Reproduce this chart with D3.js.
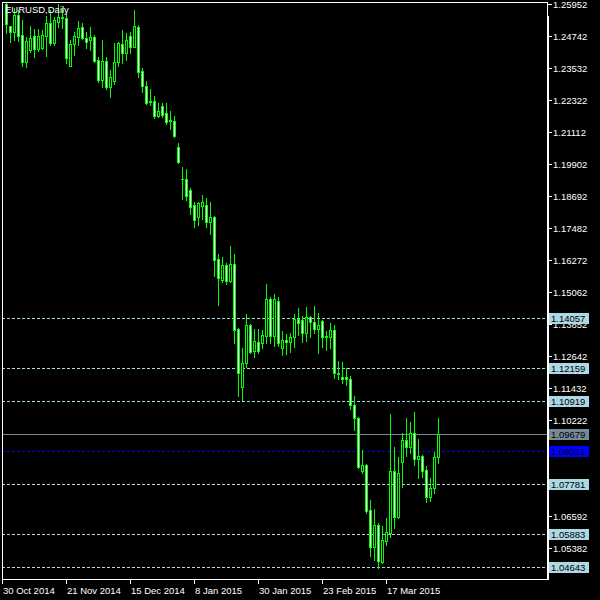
<!DOCTYPE html>
<html><head><meta charset="utf-8">
<script src="https://cdn.jsdelivr.net/npm/d3@7/dist/d3.min.js"></script>
<style>html,body{margin:0;padding:0;background:#000;}svg{display:block;}</style>
</head><body>
<svg id="c" width="600" height="600"></svg>
<script>
// ---- data (bars 31 Oct 2014 .. 2 Apr 2015, index 1..109; index 0 = 30 Oct 2014) ----
const barIndex = d3.range(1, 110);
const open = [1.2594,1.2510,1.2487,1.2552,1.2476,1.2374,1.2419,1.2472,1.2423,1.2427,
1.2472,1.2521,1.2446,1.2525,1.2544,1.2540,1.2359,1.2442,1.2469,1.2506,
1.2465,1.2457,1.2469,1.2382,1.2306,1.2378,1.2279,1.2302,1.2374,1.2442,
1.2408,1.2472,1.2431,1.2506,1.2340,1.2283,1.2227,1.2227,1.2170,1.2208,
1.2181,1.2155,1.2151,1.2053,1.1932,1.1932,1.1890,1.1833,1.1788,1.1830,
1.1833,1.1769,1.1788,1.1629,1.1550,1.1606,1.1546,1.1610,1.1364,1.1145,
1.1236,1.1380,1.1281,1.1315,1.1311,1.1338,1.1478,1.1338,1.1470,1.1293,
1.1323,1.1315,1.1334,1.1402,1.1398,1.1349,1.1410,1.1391,1.1364,1.1395,
1.1338,1.1334,1.1361,1.1198,1.1183,1.1183,1.1175,1.1077,1.1028,1.0827,
1.0850,1.0680,1.0540,1.0623,1.0483,1.0563,1.0593,1.0827,1.0653,1.0861,
1.0945,1.0918,1.0971,1.0873,1.0884,1.0831,1.0729,1.0763,1.0880];
const high = [1.2598,1.2512,1.2578,1.2571,1.2533,1.2469,1.2510,1.2499,1.2499,1.2495,
1.2548,1.2571,1.2544,1.2595,1.2578,1.2559,1.2457,1.2487,1.2529,1.2521,
1.2487,1.2506,1.2476,1.2393,1.2457,1.2393,1.2344,1.2446,1.2450,1.2495,
1.2484,1.2487,1.2571,1.2514,1.2351,1.2302,1.2272,1.2245,1.2219,1.2219,
1.2219,1.2189,1.2170,1.2068,1.1977,1.1969,1.1898,1.1845,1.1845,1.1871,
1.1860,1.1845,1.1792,1.1648,1.1637,1.1614,1.1678,1.1648,1.1368,1.1293,
1.1421,1.1383,1.1364,1.1364,1.1361,1.1535,1.1485,1.1497,1.1485,1.1357,
1.1345,1.1349,1.1421,1.1444,1.1414,1.1448,1.1414,1.1451,1.1425,1.1398,
1.1357,1.1387,1.1380,1.1243,1.1240,1.1217,1.1187,1.1111,1.1032,1.0907,
1.0854,1.0718,1.0684,1.0631,1.0619,1.0650,1.1043,1.0918,1.0880,1.0971,
1.1028,1.1013,1.1051,1.0948,1.0888,1.0846,1.0801,1.0899,1.1028];
const low = [1.2484,1.2450,1.2457,1.2453,1.2359,1.2355,1.2412,1.2393,1.2416,1.2423,
1.2397,1.2438,1.2438,1.2506,1.2503,1.2370,1.2358,1.2400,1.2438,1.2461,
1.2427,1.2419,1.2374,1.2298,1.2279,1.2272,1.2242,1.2291,1.2359,1.2370,
1.2382,1.2408,1.2431,1.2317,1.2261,1.2215,1.2211,1.2162,1.2166,1.2166,
1.2140,1.2121,1.2090,1.1992,1.1856,1.1852,1.1799,1.1750,1.1758,1.1780,
1.1750,1.1724,1.1565,1.1455,1.1542,1.1535,1.1542,1.1311,1.1111,1.1096,
1.1221,1.1274,1.1259,1.1274,1.1293,1.1311,1.1311,1.1300,1.1300,1.1266,
1.1270,1.1277,1.1296,1.1342,1.1315,1.1319,1.1334,1.1349,1.1274,1.1296,
1.1285,1.1293,1.1179,1.1175,1.1160,1.1153,1.1062,1.0982,1.0839,1.0820,
1.0669,1.0506,1.0491,1.0461,1.0480,1.0548,1.0578,1.0612,1.0650,1.0767,
1.0884,1.0896,1.0850,1.0801,1.0805,1.0710,1.0714,1.0744,1.0858];
const close = [1.2518,1.2487,1.2552,1.2472,1.2374,1.2453,1.2465,1.2423,1.2472,1.2476,
1.2521,1.2446,1.2533,1.2544,1.2540,1.2389,1.2442,1.2472,1.2503,1.2465,
1.2450,1.2469,1.2378,1.2306,1.2378,1.2279,1.2317,1.2374,1.2446,1.2408,
1.2457,1.2431,1.2510,1.2336,1.2283,1.2219,1.2223,1.2170,1.2189,1.2174,
1.2147,1.2151,1.2094,1.1996,1.1932,1.1867,1.1826,1.1777,1.1841,1.1845,
1.1769,1.1788,1.1625,1.1557,1.1606,1.1546,1.1610,1.1361,1.1198,1.1236,
1.1380,1.1277,1.1319,1.1281,1.1342,1.1478,1.1338,1.1478,1.1311,1.1323,
1.1315,1.1334,1.1402,1.1387,1.1349,1.1410,1.1391,1.1364,1.1380,1.1334,
1.1334,1.1361,1.1198,1.1194,1.1175,1.1175,1.1077,1.1028,1.0843,1.0850,
1.0676,1.0540,1.0623,1.0487,1.0567,1.0597,1.0827,1.0653,1.0820,1.0945,
1.0918,1.0971,1.0873,1.0884,1.0827,1.0729,1.0763,1.0880,1.0968];

const dateTickIndex = [0,16,32,48,64,80,96];
const dateTickLabels = ["30 Oct 2014","21 Nov 2014","15 Dec 2014","8 Jan 2015","30 Jan 2015","23 Feb 2015","17 Mar 2015"];
const priceTickLabels = ["1.25952","1.24742","1.23532","1.22322","1.21112","1.19902","1.18692","1.17482","1.16272","1.15062","1.13852","1.12642","1.11432","1.10222","1.09012","1.07802","1.06592","1.05382"];
const levelLines = [1.14057,1.12159,1.10919,1.07781,1.05883,1.04643];
const askPrice = 1.09679;
const bidPrice = 1.09021;
const priceMin = 1.04191, priceMax = 1.26009;
const title = "EURUSD,Daily";

// ---- drawing ----
const svg = d3.select("#c").attr("shape-rendering","crispEdges");
const L = 2, R = 547, T = 2, B = 579;
const x = d3.scaleLinear().domain([0, 109]).range([2, 438]);
const y = d3.scaleLinear().domain([priceMin, priceMax]).range([B, T]);
const FONT = "'Liberation Sans', Arial, sans-serif";
const LIME = "#00ff00";

svg.append("rect").attr("width",600).attr("height",600).attr("fill","#000");

// level lines
const lines = svg.append("g");
levelLines.forEach(v=>{
  const yy = Math.round(y(v)) + 0.5;
  lines.append("line").attr("x1",L).attr("x2",R).attr("y1",yy).attr("y2",yy)
    .attr("stroke","#add8e6").attr("stroke-dasharray","3,2");
});
{
  const yy = Math.round(y(askPrice)) + 0.5;
  lines.append("line").attr("x1",L).attr("x2",R).attr("y1",yy).attr("y2",yy).attr("stroke","#778899");
  const yb = Math.round(y(bidPrice)) + 0.5;
  lines.append("line").attr("x1",L).attr("x2",R).attr("y1",yb).attr("y2",yb)
    .attr("stroke","#0000ff").attr("stroke-dasharray","3,2");
}

// candles
const cg = svg.append("g");
barIndex.forEach((idx, k)=>{
  const cx = Math.round(x(idx));
  const o = open[k], c = close[k], h = high[k], l = low[k];
  const yh = Math.round(y(h)), yl = Math.round(y(l));
  cg.append("rect").attr("x",cx).attr("y",yh).attr("width",1).attr("height",yl-yh+1).attr("fill",LIME);
  const yTop = Math.round(y(Math.max(o,c))), yBot = Math.round(y(Math.min(o,c)));
  cg.append("rect").attr("x",cx-1).attr("y",yTop).attr("width",3).attr("height",yBot-yTop+1).attr("fill",LIME);
  if (yBot - yTop >= 2) {
    cg.append("rect").attr("x",cx).attr("y",yTop+1).attr("width",1).attr("height",yBot-yTop-1)
      .attr("fill", c < o ? "#ffffff" : "#000000");
  }
});

// frame
svg.append("rect").attr("x",L+0.5).attr("y",T+0.5).attr("width",R-L).attr("height",B-T)
  .attr("fill","none").attr("stroke","#fff");
svg.append("line").attr("x1",R+1.5).attr("x2",R+1.5).attr("y1",T+14).attr("y2",B+1).attr("stroke","#fff");

// title
svg.append("text").attr("x",5).attr("y",13).attr("fill","#fff").attr("font-family",FONT)
  .attr("font-size","9.5px").text(title);

// price axis (labels fully hidden under a price box are not drawn, as in the original)
const boxValues = levelLines.concat([askPrice, bidPrice]);
const ax = svg.append("g");
priceTickLabels.forEach(t=>{
  const yy = Math.round(y(+t));
  ax.append("line").attr("x1",R).attr("x2",R+5).attr("y1",yy+0.5).attr("y2",yy+0.5).attr("stroke","#fff");
  const covered = boxValues.some(v => Math.abs(Math.round(y(v)) - yy) < 4);
  if (!covered) {
    ax.append("text").attr("x",R+6).attr("y",yy+3.5).attr("fill","#fff").attr("font-family",FONT)
      .attr("font-size","9.5px").text(t);
  }
});

// price boxes
function box(v, bg, fg){
  const yy = Math.round(y(v));
  ax.append("rect").attr("x",549).attr("y",yy-5).attr("width",40).attr("height",11).attr("fill",bg);
  ax.append("text").attr("x",551).attr("y",yy+3.5).attr("fill",fg).attr("font-family",FONT)
    .attr("font-size","9.5px").text(v.toFixed(5));
}
levelLines.forEach(v=>box(v,"#add8e6","#000"));
box(askPrice,"#778899","#000");
box(bidPrice,"#0000ff","#000");

// date axis
dateTickIndex.forEach((idx,k)=>{
  const xx = Math.round(x(idx));
  ax.append("line").attr("x1",xx+0.5).attr("x2",xx+0.5).attr("y1",B).attr("y2",B+5).attr("stroke","#fff");
  ax.append("text").attr("x",xx+1).attr("y",594).attr("fill","#fff").attr("font-family",FONT)
    .attr("font-size","9.5px").text(dateTickLabels[k]);
});
</script>
</body></html>
